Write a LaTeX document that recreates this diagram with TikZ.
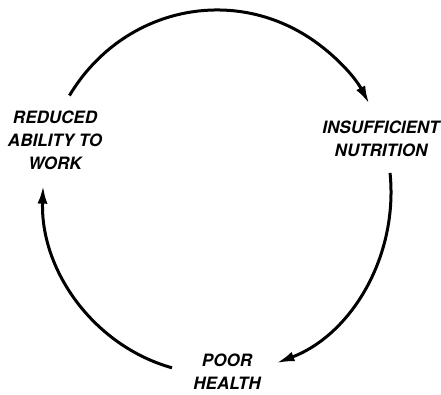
\documentclass[tikz,border=0pt]{standalone}
\usepackage{fontspec}
\setmainfont{TeX Gyre Heros}
\usetikzlibrary{arrows.meta}

\begin{document}
\begin{tikzpicture}[x=1pt,y=1pt,
  stage/.style={align=center,font=\fontsize{17}{23}\selectfont\bfseries\itshape},
  cycle/.style={line width=3pt,-{Latex[length=18pt,width=10pt]}}]

\useasboundingbox (0,0) rectangle (441,395);

% Stages
\node[stage] (work) at (55,255) {REDUCED\\ABILITY TO\\WORK};
\node[stage] (food) at (381,256) {INSUFFICIENT\\NUTRITION};
\node[stage] (health) at (227,23) {POOR\\HEALTH};

% Cycle
\coordinate (c) at (217,203);
\coordinate (a1) at ([shift={(148:174 and 182)}]c);
\coordinate (a2) at ([shift={(6:174 and 182)}]c);
\coordinate (a3) at ([shift={(255:174 and 182)}]c);

\draw[cycle] (a1) arc[start angle=148,end angle=29,x radius=174,y radius=182];
\draw[cycle] (a2) arc[start angle=6,end angle=-70,x radius=174,y radius=182];
\draw[cycle] (a3) arc[start angle=255,end angle=178,x radius=174,y radius=182];

\end{tikzpicture}
\end{document}
